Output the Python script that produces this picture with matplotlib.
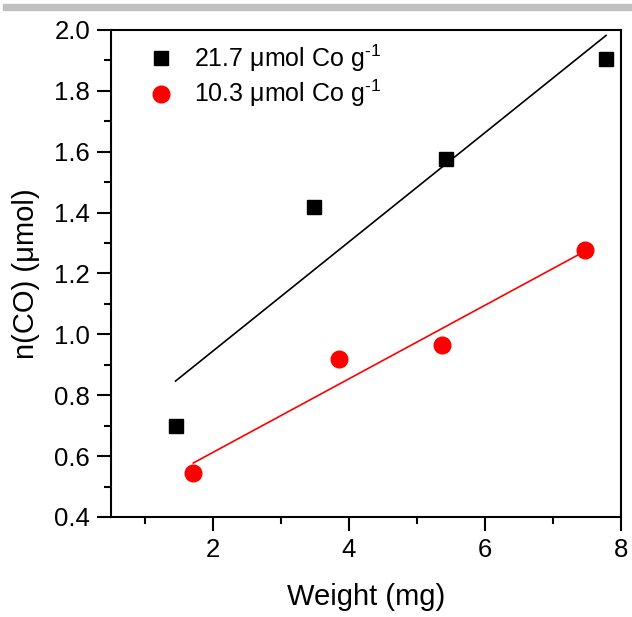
import matplotlib
matplotlib.use('Agg')
import matplotlib.pyplot as plt
import numpy as np
from matplotlib.ticker import MultipleLocator

plt.rcParams['font.family'] = ['Liberation Sans', 'DejaVu Sans']
plt.rcParams['mathtext.fontset'] = 'custom'
plt.rcParams['mathtext.rm'] = 'Liberation Sans'
plt.rcParams['mathtext.default'] = 'regular'

# data
weight_hi = [1.45, 3.49, 5.42, 7.78]
nco_hi = [0.70, 1.42, 1.575, 1.905]
weight_lo = [1.71, 3.85, 5.37, 7.47]
nco_lo = [0.545, 0.919, 0.965, 1.277]
labels = [r'21.7 μmol Co g$^{\text{-}1}$', r'10.3 μmol Co g$^{\text{-}1}$']

fig = plt.figure(figsize=(6.32, 6.17), dpi=100)
ax = fig.add_axes([0.1756, 0.1621, 0.807, 0.7893])

# grey strip along the top edge
fig.patches.append(plt.Rectangle((0.005, 1 - 9.5 / 617), 0.995, 5.5 / 617,
                                 transform=fig.transFigure, color='#c0c0c0', zorder=0))

ax.plot(weight_hi, nco_hi, 's', color='black', markersize=10.5, label=labels[0], zorder=3)
ax.plot(weight_lo, nco_lo, 'o', color='#ff0000', markersize=12, label=labels[1], zorder=3)

# linear fits over each data range
for xs, ys, c in [(weight_hi, nco_hi, 'black'), (weight_lo, nco_lo, '#ff0000')]:
    k, b = np.polyfit(xs, ys, 1)
    xf = np.array([min(xs), max(xs)])
    ax.plot(xf, k * xf + b, '-', color=c, linewidth=1.2, zorder=2)

ax.set_xlim(0.5, 8)
ax.set_ylim(0.4, 2.0)
ax.xaxis.set_major_locator(MultipleLocator(2))
ax.xaxis.set_minor_locator(MultipleLocator(1))
ax.yaxis.set_major_locator(MultipleLocator(0.2))
ax.yaxis.set_minor_locator(MultipleLocator(0.1))
ax.yaxis.set_major_formatter(matplotlib.ticker.FormatStrFormatter('%.1f'))

for s in ax.spines.values():
    s.set_linewidth(1.5)
ax.tick_params(which='major', direction='out', length=10, width=1.5, labelsize=18.5, pad=5)
ax.tick_params(which='minor', direction='out', length=5, width=1.5)

ax.set_xlabel('Weight (mg)', fontsize=21, labelpad=15)
ax.set_ylabel('n(CO) (μmol)', fontsize=21, labelpad=10)

ax.legend(loc='upper left', bbox_to_anchor=(0.03, 1.02), frameon=False, numpoints=1,
          fontsize=18, handlelength=1.0, handletextpad=0.8, labelspacing=0.15)

fig.savefig('out.png', dpi=100)
